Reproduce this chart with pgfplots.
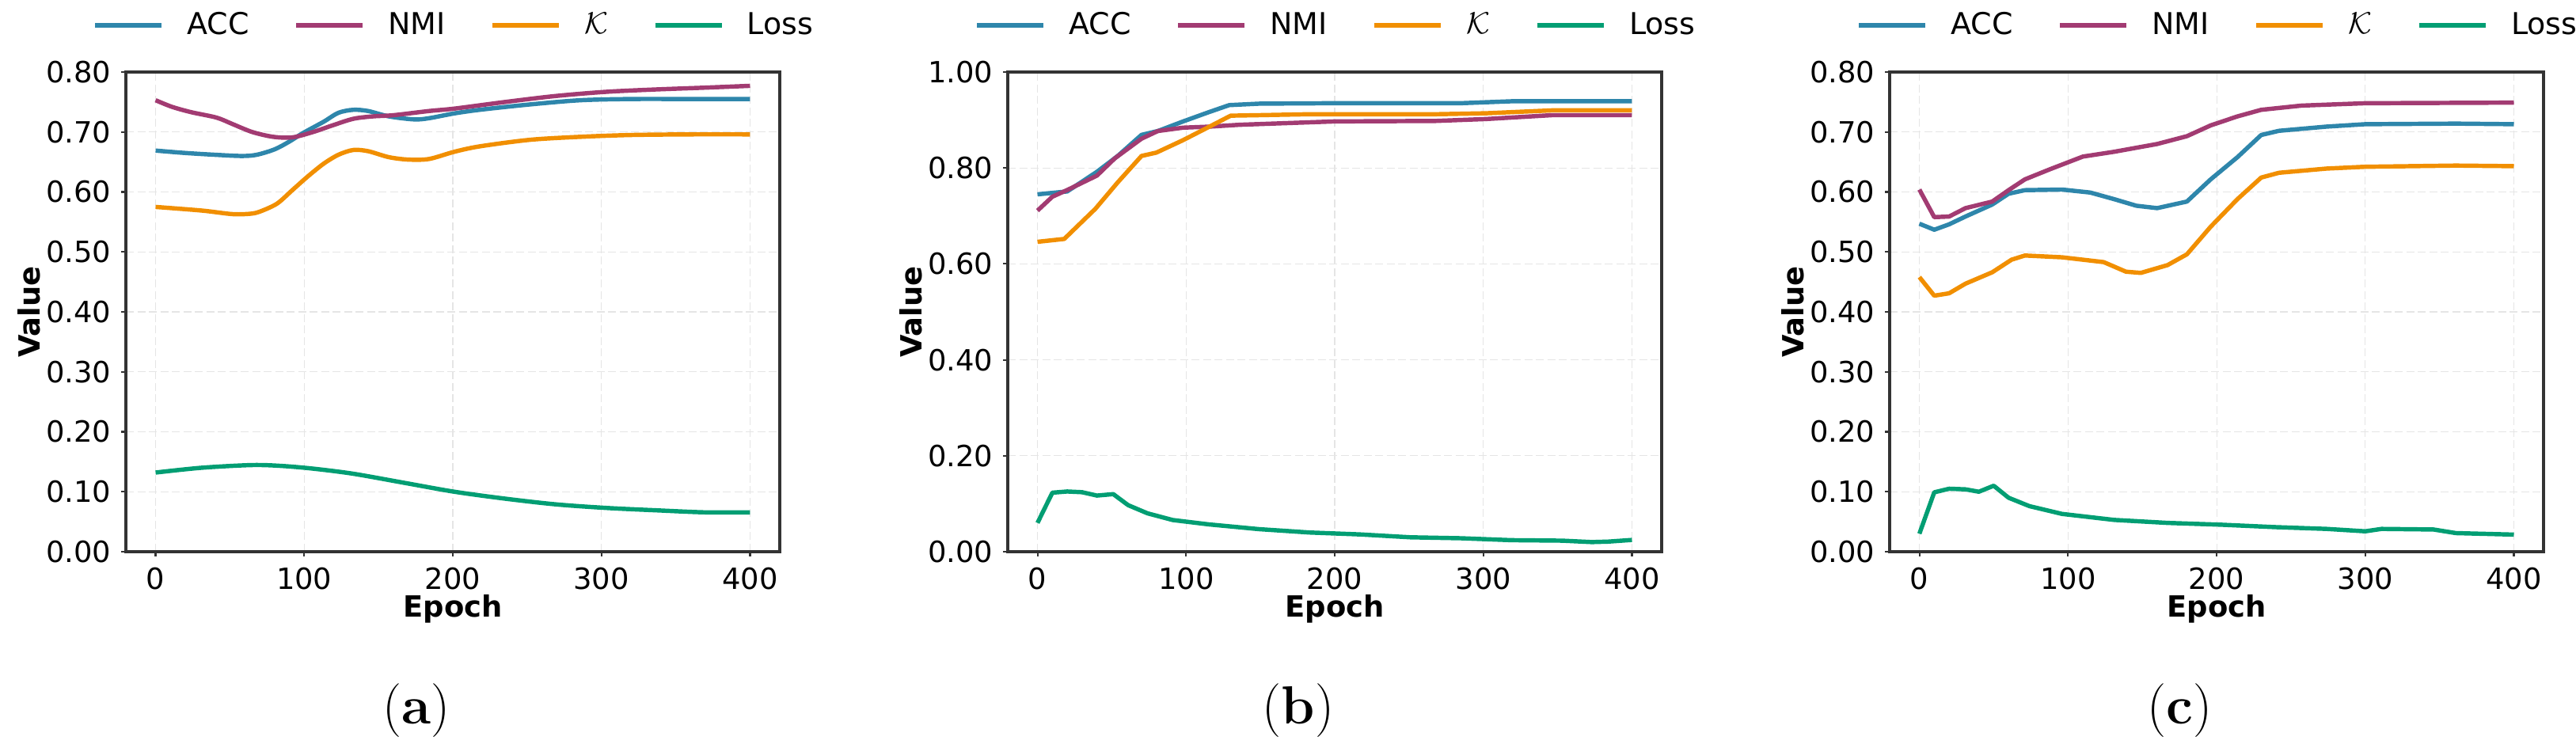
\documentclass[border=0pt]{standalone}
\usepackage{fontspec}
\setsansfont{DejaVu Sans}
\usepackage{pgfplots}
\pgfplotsset{compat=1.18}
\definecolor{cACC}{HTML}{2E86AB}
\definecolor{cNMI}{HTML}{A23B72}
\definecolor{cK}{HTML}{F18F01}
\definecolor{cLoss}{HTML}{029E73}
\definecolor{axgray}{HTML}{333333}
\newcommand\tickfont{\sffamily\fontsize{10.5}{12}\selectfont}
\newcommand\labfont{\sffamily\bfseries\fontsize{10.5}{12}\selectfont}
\pgfplotsset{
  myax/.style={
    scale only axis, width=82.6mm, height=60.6mm,
    xmin=-20, xmax=420, ymin=0,
    xtick={0,100,200,300,400},
    tick pos=left, tick align=outside, major tick length=0.6mm,
    tick style={draw=axgray, line width=0.6pt},
    axis line style={draw=axgray, line width=0.95pt},
    grid=major,
    major grid style={draw=black!10, line width=0.3pt, dash pattern=on 1mm off 0.45mm},
    tick label style={font=\tickfont},
    /pgf/number format/assume math mode=true,
    yticklabel style={/pgf/number format/fixed, /pgf/number format/fixed zerofill, /pgf/number format/precision=2, inner sep=0pt, anchor=east, xshift=-1.2mm},
    xticklabel style={inner sep=0pt, anchor=north, yshift=-1.3mm},
    xlabel={Epoch}, ylabel={Value},
    xlabel style={font=\labfont, at={(axis description cs:0.5,0)}, anchor=north, inner sep=0pt, yshift=-5.4mm},
    ylabel style={font=\labfont, at={(axis description cs:-0.1477,0.5)}, anchor=center, inner sep=0pt},
    legend columns=4,
    legend style={at={(0.5,1)}, anchor=center, yshift=5.9mm, draw=none, fill=none, inner sep=0pt,
      font=\sffamily\fontsize{10.8}{12}\selectfont,
      nodes={inner sep=0pt, anchor=west},
      /tikz/every odd column/.append style={column sep=2.9mm},
      /tikz/every even column/.append style={column sep=5.6mm}},
    legend image code/.code={\draw[#1, line width=1.9pt] (0mm,0mm) -- (8.4mm,0mm);},
    every axis plot/.append style={line width=1.55pt, line join=round},
  }
}
\begin{document}
\begin{tikzpicture}
\useasboundingbox (0,0) rectangle (325.4mm,94.5mm);
% ---------------- (a)
\begin{axis}[myax, at={(15.9mm,24.8mm)}, anchor=south west, ymax=0.8,
  ytick={0,0.1,0.2,0.3,0.4,0.5,0.6,0.7,0.8}]
\addplot[cACC, smooth] coordinates {(0,0.669)(20,0.665)(40,0.662)(58,0.660)(68,0.662)(80,0.671)(90,0.684)(99,0.698)(113,0.717)(123,0.732)(133,0.737)(143,0.735)(157,0.726)(174,0.721)(184,0.723)(201,0.731)(218,0.737)(252,0.746)(286,0.753)(320,0.755)(360,0.755)(400,0.755)};
\addlegendentry{ACC}
\addplot[cNMI, smooth] coordinates {(0,0.753)(11,0.742)(24,0.733)(41,0.724)(52,0.713)(65,0.700)(79,0.692)(92,0.691)(106,0.700)(119,0.711)(133,0.722)(146,0.726)(160,0.728)(184,0.735)(201,0.739)(235,0.750)(269,0.760)(303,0.767)(337,0.771)(370,0.774)(400,0.777)};
\addlegendentry{NMI}
\addplot[cK, smooth] coordinates {(0,0.575)(31,0.569)(52,0.563)(65,0.564)(72,0.569)(82,0.581)(92,0.603)(102,0.625)(113,0.647)(123,0.662)(133,0.670)(143,0.668)(157,0.658)(170,0.654)(184,0.655)(201,0.667)(218,0.676)(252,0.687)(286,0.692)(320,0.695)(360,0.696)(400,0.696)};
\addlegendentry{$\mathcal{K}$}
\addplot[cLoss, smooth] coordinates {(0,0.132)(31,0.140)(65,0.1445)(85,0.143)(106,0.1385)(133,0.130)(167,0.115)(201,0.100)(235,0.0885)(269,0.079)(303,0.073)(337,0.069)(370,0.0656)(400,0.0656)};
\addlegendentry{Loss}
\end{axis}
% ---------------- (b)
\begin{axis}[myax, at={(127.3mm,24.8mm)}, anchor=south west, ymax=1.0,
  ytick={0,0.2,0.4,0.6,0.8,1.0}]
\addplot[cACC] coordinates {(0,0.745)(20,0.751)(40,0.792)(54,0.825)(70,0.869)(81,0.877)(98,0.897)(115,0.916)(129,0.931)(149,0.934)(200,0.935)(285,0.935)(319,0.939)(400,0.939)};
\addlegendentry{ACC}
\addplot[cNMI] coordinates {(0,0.711)(10,0.740)(20,0.754)(40,0.784)(52,0.820)(70,0.861)(81,0.877)(98,0.884)(115,0.886)(136,0.890)(200,0.897)(268,0.898)(302,0.902)(346,0.910)(400,0.910)};
\addlegendentry{NMI}
\addplot[cK] coordinates {(0,0.646)(18,0.652)(39,0.715)(54,0.770)(70,0.825)(80,0.832)(98,0.858)(115,0.885)(130,0.909)(149,0.910)(183,0.912)(268,0.912)(302,0.914)(346,0.920)(400,0.920)};
\addlegendentry{$\mathcal{K}$}
\addplot[cLoss] coordinates {(0,0.060)(10,0.123)(20,0.1255)(30,0.124)(40,0.117)(51,0.120)(61,0.097)(74,0.080)(91,0.066)(115,0.057)(149,0.047)(183,0.040)(217,0.036)(251,0.030)(285,0.028)(319,0.024)(353,0.023)(373,0.020)(384,0.021)(400,0.0245)};
\addlegendentry{Loss}
\end{axis}
% ---------------- (c)
\begin{axis}[myax, at={(238.7mm,24.8mm)}, anchor=south west, ymax=0.8,
  ytick={0,0.1,0.2,0.3,0.4,0.5,0.6,0.7,0.8}]
\addplot[cACC] coordinates {(0,0.547)(10,0.537)(20,0.546)(31,0.559)(49,0.579)(60,0.597)(71,0.603)(96,0.604)(115,0.599)(131,0.588)(146,0.577)(160,0.573)(180,0.584)(196,0.621)(214,0.658)(230,0.695)(242,0.702)(274,0.709)(300,0.713)(361,0.714)(400,0.713)};
\addlegendentry{ACC}
\addplot[cNMI] coordinates {(0,0.604)(10,0.558)(20,0.559)(31,0.573)(49,0.584)(60,0.603)(71,0.621)(88,0.638)(110,0.659)(131,0.667)(160,0.680)(180,0.693)(196,0.711)(214,0.726)(230,0.737)(257,0.744)(300,0.748)(400,0.749)};
\addlegendentry{NMI}
\addplot[cK] coordinates {(0,0.458)(10,0.427)(20,0.431)(31,0.447)(49,0.466)(62,0.487)(71,0.494)(96,0.491)(124,0.483)(139,0.467)(149,0.465)(167,0.478)(180,0.496)(196,0.542)(214,0.588)(230,0.624)(242,0.632)(274,0.639)(300,0.642)(361,0.644)(400,0.643)};
\addlegendentry{$\mathcal{K}$}
\addplot[cLoss] coordinates {(0,0.030)(10,0.099)(20,0.105)(31,0.104)(40,0.100)(50,0.110)(60,0.090)(74,0.076)(96,0.063)(131,0.053)(167,0.048)(203,0.045)(239,0.041)(274,0.038)(300,0.034)(311,0.038)(346,0.037)(361,0.031)(400,0.0285)};
\addlegendentry{Loss}
\end{axis}
% captions
\node[anchor=base, font=\rmfamily\fontsize{19.3}{22}\selectfont] at (52.6mm,3.0mm) {(\textbf{a})};
\node[anchor=base, font=\rmfamily\fontsize{19.3}{22}\selectfont] at (164.0mm,3.0mm) {(\textbf{b})};
\node[anchor=base, font=\rmfamily\fontsize{19.3}{22}\selectfont] at (275.3mm,3.0mm) {(\textbf{c})};
\end{tikzpicture}
\end{document}
